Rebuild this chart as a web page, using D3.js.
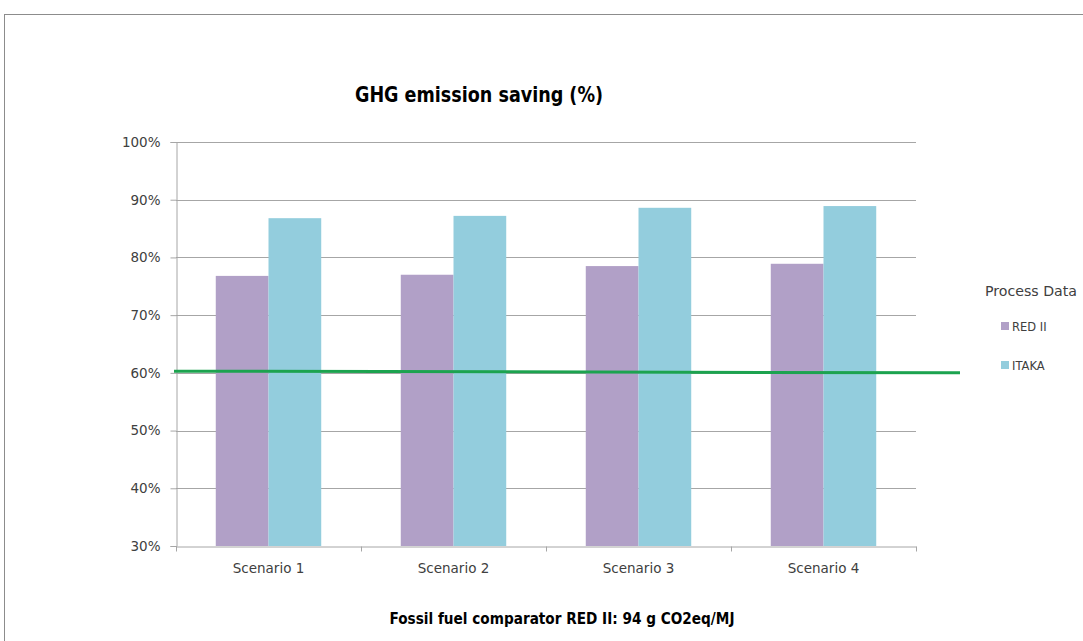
<!DOCTYPE html>
<html>
<head>
<meta charset="utf-8">
<script src="https://cdn.jsdelivr.net/npm/d3@7"></script>
<style>
  body { margin: 0; background: #fff; }
  svg { display: block; }
</style>
</head>
<body>
<svg width="1083" height="641"></svg>
<script>
// values
var scenarios = ["Scenario 1", "Scenario 2", "Scenario 3", "Scenario 4"]
var series = ["RED II", "ITAKA"]
var redII = [76.8, 77.0, 78.5, 78.9]
var itaka = [86.8, 87.2, 88.6, 88.9]
var yTicks = [30, 40, 50, 60, 70, 80, 90, 100]
// threshold line (start, end)
var threshold = [60.3, 60.0]

var colors = { "RED II": "#b1a0c7", "ITAKA": "#93cddd" }

var svg = d3.select("svg")

// outer frame of the chart object
svg.append("rect")
  .attr("x", 4.5).attr("y", 14.5)
  .attr("width", 1090).attr("height", 640)
  .attr("fill", "none").attr("stroke", "#8c8c8c")

var pLeft = 176, pRight = 916, pTop = 142, pBottom = 546

var scX = d3.scaleBand()
  .domain(scenarios)
  .range([pLeft, pRight])
  .paddingInner(0.43).paddingOuter(0.215)

var scY = d3.scaleLinear()
  .domain([30, 100])
  .range([pBottom, pTop])

// gridlines
svg.append("g")
  .selectAll("line")
  .data(yTicks.slice(1)).enter().append("line")
  .attr("x1", pLeft).attr("x2", pRight)
  .attr("y1", d => Math.round(scY(d)) + 0.5)
  .attr("y2", d => Math.round(scY(d)) + 0.5)
  .attr("stroke", "#a6a6a6")

// bars
var groups = series.map(function(s, i) {
  return { name: s, values: i == 0 ? redII : itaka }
})
var scInner = d3.scaleBand().domain(series).range([0, scX.bandwidth()])

groups.forEach(function(g) {
  svg.append("g")
    .selectAll("rect")
    .data(g.values).enter().append("rect")
    .attr("x", (d, i) => scX(scenarios[i]) + scInner(g.name))
    .attr("width", scInner.bandwidth())
    .attr("y", d => scY(d))
    .attr("height", d => scY(30) - scY(d))
    .attr("fill", colors[g.name])
})

// y axis
var yAxis = d3.axisLeft(scY)
  .tickValues(yTicks)
  .tickFormat(d => d + "%")
  .tickSize(6).tickPadding(10)
var gy = svg.append("g")
  .attr("transform", "translate(" + (pLeft + 0.5) + ",0)")
  .call(yAxis)
gy.select(".domain").attr("stroke", "#a6a6a6")
gy.selectAll(".tick line").attr("stroke", "#a6a6a6")
gy.selectAll(".tick text")
  .attr("fill", "#404040")
  .style("font-family", "'DejaVu Sans', sans-serif")
  .style("font-size", "13.5px")

// x axis: category boundaries as ticks
var xAxis = d3.axisBottom(scX).tickSize(0).tickPadding(17)
var gx = svg.append("g")
  .attr("transform", "translate(0," + (pBottom + 0.5) + ")")
  .call(xAxis)
gx.select(".domain").attr("stroke", "#a6a6a6")
gx.selectAll(".tick text")
  .attr("fill", "#404040")
  .style("font-family", "'DejaVu Sans', sans-serif")
  .style("font-size", "13.5px")
var bounds = scenarios.map(d => scX(d) - scX.step() * scX.paddingInner() / 2)
bounds.push(pRight)
gx.selectAll(".bound")
  .data(bounds).enter().append("line")
  .attr("class", "bound")
  .attr("x1", d => Math.round(d) + 0.5).attr("x2", d => Math.round(d) + 0.5)
  .attr("y1", 0).attr("y2", 5)
  .attr("stroke", "#a6a6a6")

// green threshold line
var scLine = d3.scaleLinear().domain([0, 1]).range([pLeft - 2, 960])
var lineMaker = d3.line()
  .x((d, i) => scLine(i))
  .y(d => scY(d))
svg.append("path")
  .attr("fill", "none")
  .attr("stroke", "#1ca34f")
  .attr("stroke-width", 3)
  .attr("d", lineMaker(threshold))

// title
svg.append("text")
  .attr("x", 479).attr("y", 102)
  .attr("text-anchor", "middle")
  .attr("textLength", 248).attr("lengthAdjust", "spacingAndGlyphs")
  .style("font-family", "'DejaVu Sans Condensed', 'Open Sans', sans-serif")
  .style("font-weight", "bold")
  .style("font-size", "21px")
  .attr("fill", "#000")
  .text("GHG emission saving (%)")

// footer note
svg.append("text")
  .attr("x", 562).attr("y", 624)
  .attr("text-anchor", "middle")
  .attr("textLength", 345).attr("lengthAdjust", "spacingAndGlyphs")
  .style("font-family", "'DejaVu Sans Condensed', 'Open Sans', sans-serif")
  .style("font-weight", "bold")
  .style("font-size", "15px")
  .attr("fill", "#000")
  .text("Fossil fuel comparator RED II: 94 g CO2eq/MJ")

// legend
var legend = svg.append("g")
legend.append("text")
  .attr("x", 985).attr("y", 296)
  .attr("textLength", 92).attr("lengthAdjust", "spacingAndGlyphs")
  .style("font-family", "'DejaVu Sans', sans-serif")
  .style("font-size", "14px")
  .attr("fill", "#404040")
  .text("Process Data")
var items = legend.selectAll(".item")
  .data(series).enter().append("g")
  .attr("class", "item")
  .attr("transform", (d, i) => "translate(1001," + (322 + i * 39) + ")")
items.append("rect")
  .attr("width", 8).attr("height", 8)
  .attr("fill", d => colors[d])
items.append("text")
  .attr("x", 11).attr("y", 8.5)
  .style("font-family", "'DejaVu Sans', sans-serif")
  .style("font-size", "11.5px")
  .attr("fill", "#404040")
  .text(d => d)
</script>
</body>
</html>
